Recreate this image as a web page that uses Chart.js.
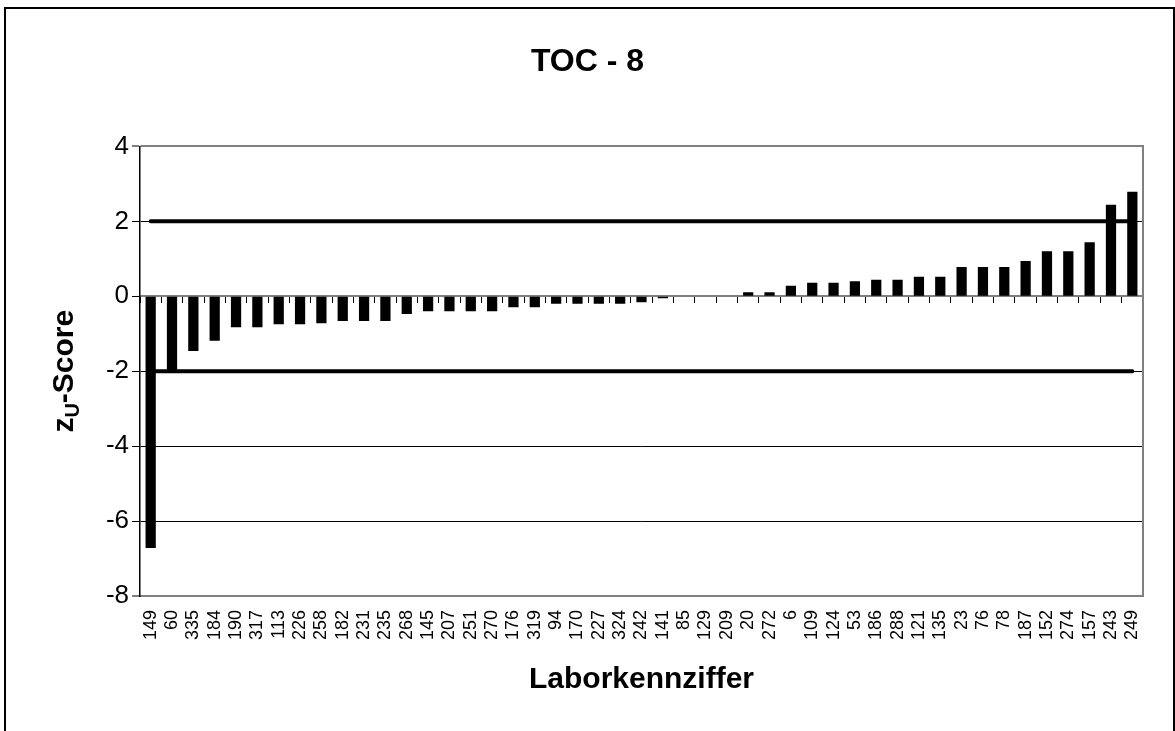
<!DOCTYPE html>
<html>
<head>
<meta charset="utf-8">
<script src="https://cdn.jsdelivr.net/npm/chart.js@4.4.1/dist/chart.umd.min.js"></script>
<style>
html, body { margin: 0; padding: 0; background: #fff; overflow: hidden; }
#wrap { position: relative; width: 1175px; height: 731px; }
#frame { position: absolute; left: 4px; top: 7px; width: 1171px; height: 800px; border: 2px solid #000; box-sizing: border-box; pointer-events: none; }
canvas { position: absolute; left: 0; top: 0; }
</style>
</head>
<body>
<div id="wrap">
  <div id="frame"></div>
  <canvas id="zChart" width="1175" height="731"></canvas>
</div>
<script>
// Laborkennziffern (sorted by z-score)
const labs = ["149","60","335","184","190","317","113","226","258","182","231","235","268","145","207","251","270","176","319","94","170","227","324","242","141","85","129","209","20","272","6","109","124","53","186","288","121","135","23","76","78","187","152","274","157","243","249"];
const zScores = [-6.72,-1.99,-1.46,-1.19,-0.83,-0.83,-0.75,-0.75,-0.72,-0.66,-0.66,-0.66,-0.47,-0.4,-0.4,-0.4,-0.4,-0.29,-0.29,-0.2,-0.2,-0.2,-0.2,-0.16,-0.05,0,0,0,0.11,0.11,0.28,0.36,0.36,0.4,0.44,0.44,0.52,0.52,0.78,0.78,0.78,0.94,1.2,1.2,1.44,2.44,2.79];
// limit lines from first to last lab
const limitX = ["149","249"];
const upperLimit = [2, 2];
const lowerLimit = [-2, -2];
const yTicks = [4, 2, 0, -2, -4, -6, -8];

const FONT = '"Liberation Sans", Arial, sans-serif';

// y axis title with subscript U
const yTitle = {
  id: "yTitle",
  afterDraw(chart) {
    const ctx = chart.ctx, a = chart.chartArea;
    const big = "bold 30px " + FONT, small = "bold 20px " + FONT;
    ctx.save();
    ctx.translate(62, (a.top + a.bottom) / 2);
    ctx.rotate(-Math.PI / 2);
    ctx.fillStyle = "#000";
    ctx.textBaseline = "alphabetic";
    ctx.textAlign = "left";
    ctx.font = big;
    const wz = ctx.measureText("z").width, ws = ctx.measureText("-Score").width;
    ctx.font = small;
    const wu = ctx.measureText("U").width;
    let x = -(wz + wu + ws) / 2;
    ctx.font = big; ctx.fillText("z", x, 11); x += wz;
    ctx.font = small; ctx.fillText("U", x, 17); x += wu;
    ctx.font = big; ctx.fillText("-Score", x, 11);
    ctx.restore();
  }
};

const mkLine = (ys) => ({
  type: "line",
  data: limitX.map((c, i) => ({ x: c, y: ys[i] })),
  borderColor: "#000",
  borderWidth: 4,
  borderCapStyle: "round",
  pointRadius: 0,
  fill: false,
  xAxisID: "x",
  yAxisID: "y"
});

new Chart(document.getElementById("zChart"), {
  type: "bar",
  data: {
    labels: labs,
    datasets: [
      mkLine(upperLimit),
      mkLine(lowerLimit),
      {
        label: "zU-Score",
        data: zScores,
        backgroundColor: "#000",
        borderWidth: 0,
        barPercentage: 0.48,
        categoryPercentage: 1.0
      }
    ]
  },
  options: {
    responsive: false,
    animation: false,
    devicePixelRatio: 1,
    layout: { padding: 0 },
    plugins: {
      legend: { display: false },
      tooltip: { enabled: false },
      title: {
        display: true,
        text: "TOC - 8",
        color: "#000",
        font: { family: FONT, size: 32, weight: "bold", lineHeight: 1.2 },
        padding: { top: 43, bottom: 65 }
      }
    },
    scales: {
      x: {
        type: "category",
        offset: true,
        grid: { display: false, drawTicks: false },
        border: { display: true, color: "#808080", width: 2 },
        ticks: {
          autoSkip: false, maxRotation: 90, minRotation: 90,
          padding: 14, color: "#000",
          font: { family: FONT, size: 18 }
        },
        title: {
          display: true,
          text: "Laborkennziffer",
          color: "#000",
          font: { family: FONT, size: 30, weight: "bold", lineHeight: 1.2 },
          padding: { top: 0, bottom: 33 }
        },
        afterFit: (s) => { s.height = 135; }
      },
      x2: {
        type: "category",
        labels: labs,
        position: { y: 0 },
        offset: true,
        grid: { display: true, drawOnChartArea: false, offset: true, tickLength: 6, tickColor: "#000", tickWidth: 1 },
        border: { display: true, color: "#808080", width: 2 },
        ticks: { display: false }
      },
      y: {
        min: -8, max: 4,
        afterBuildTicks: (s) => { s.ticks = yTicks.map(v => ({ value: v })); },
        grid: {
          color: (c) => (c.tick.value === 4 || c.tick.value === -8) ? "#808080" : (c.tick.value === 0 ? "rgba(0,0,0,0)" : "#000"),
          lineWidth: (c) => (c.tick.value === 4 || c.tick.value === -8) ? 2 : 1,
          tickColor: "#000", tickWidth: 1, tickLength: 8
        },
        border: { display: true, color: "#000", width: 1.5 },
        ticks: { color: "#000", padding: 3, font: { family: FONT, size: 26 } },
        afterFit: (s) => { s.width = 140; }
      },
      y2: {
        position: "right",
        min: -8, max: 4,
        grid: { drawOnChartArea: false, drawTicks: false },
        border: { display: true, color: "#808080", width: 2 },
        ticks: { display: false },
        afterFit: (s) => { s.width = 32; }
      }
    }
  },
  plugins: [yTitle]
});
</script>
</body>
</html>
